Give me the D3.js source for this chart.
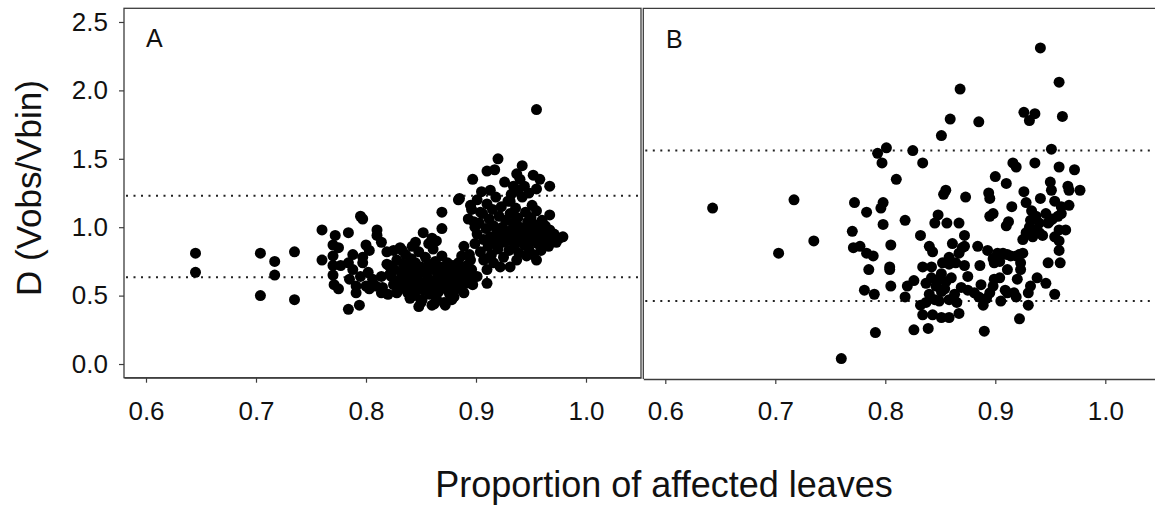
<!DOCTYPE html>
<html>
<head>
<meta charset="utf-8">
<script src="https://cdn.jsdelivr.net/npm/d3@7"></script>
<style>
  body { margin: 0; background: #fff; }
  svg { display: block; font-family: "Liberation Sans", Arial, sans-serif; }
</style>
</head>
<body>
<div id="chart"></div>
<script>
// values
var xTicks = [0.6, 0.7, 0.8, 0.9, 1.0];
var yTicks = [0.0, 0.5, 1.0, 1.5, 2.0, 2.5];
var panelNames = ["A", "B"];
var refLinesA = [1.23, 0.635];
var refLinesB = [1.56, 0.46];

var pointsA = [
  [0.645,0.81],[0.645,0.67],[0.704,0.81],[0.704,0.50],[0.717,0.75],[0.717,0.65],[0.735,0.82],[0.735,0.47],
  [0.760,0.98],[0.760,0.76],[0.772,0.94],[0.770,0.87],[0.784,0.96],[0.795,1.08],[0.797,1.06],[0.800,0.87],[0.810,0.98],[0.810,0.94],
  [0.770,0.79],[0.770,0.72],[0.770,0.65],[0.771,0.58],[0.775,0.55],[0.775,0.85],[0.777,0.72],
  [0.784,0.74],[0.788,0.69],[0.795,0.64],[0.785,0.62],[0.791,0.57],[0.791,0.52],[0.784,0.40],[0.794,0.43],
  [0.797,0.74],[0.802,0.67],[0.806,0.62],[0.800,0.57],[0.803,0.55],[0.809,0.57],[0.788,0.80],[0.797,0.78],[0.803,0.83],
  [0.814,0.52],[0.815,0.56],[0.814,0.89],[0.814,0.64],[0.819,0.73],[0.822,0.66],
  [0.819,0.82],[0.825,0.83],[0.831,0.85],[0.845,0.89],[0.852,0.96],[0.860,0.92],[0.869,1.11],[0.869,0.99],[0.884,1.20],
  [0.820,0.51],[0.828,0.52],[0.840,0.48],[0.848,0.42],[0.860,0.43],[0.872,0.43],[0.880,0.49],
  [0.955,1.86],
  [0.920,1.50],[0.910,1.41],[0.917,1.42],[0.897,1.35],[0.942,1.45],[0.937,1.39],[0.940,1.35],[0.952,1.38],[0.958,1.35],[0.967,1.30],[0.955,1.28],
  [0.926,1.33],[0.934,1.30],[0.932,1.24],[0.931,1.19],[0.885,1.21],[0.905,1.26],[0.913,1.27],[0.901,1.20],[0.895,1.16],[0.898,1.04],[0.904,1.11],
  [0.951,1.16],[0.967,1.09],[0.976,0.92],[0.979,0.93],
  [0.955,0.76],[0.946,0.79],[0.937,0.76],[0.931,0.71],[0.922,0.71],[0.916,0.74],
  [0.889,0.86],[0.887,0.79],[0.895,0.76],[0.907,0.76],[0.910,0.69],[0.901,0.64],[0.891,0.59],[0.882,0.62],[0.880,0.54],[0.889,0.52],[0.910,0.59],
  [0.821,0.72],[0.823,0.64],[0.825,0.58],[0.826,0.69],[0.828,0.76],[0.829,0.61],[0.831,0.55],[0.832,0.67],[0.834,0.73],[0.835,0.59],
  [0.836,0.80],[0.837,0.64],[0.838,0.52],[0.839,0.70],[0.840,0.57],[0.841,0.77],[0.842,0.62],[0.843,0.68],[0.844,0.50],[0.845,0.74],
  [0.846,0.56],[0.847,0.65],[0.848,0.82],[0.849,0.60],[0.850,0.71],[0.851,0.47],[0.852,0.54],[0.853,0.67],[0.854,0.78],[0.855,0.58],
  [0.856,0.63],[0.857,0.73],[0.858,0.51],[0.859,0.69],[0.860,0.56],[0.861,0.84],[0.862,0.61],[0.863,0.75],[0.864,0.48],[0.865,0.66],
  [0.866,0.53],[0.867,0.71],[0.868,0.59],[0.869,0.79],[0.870,0.63],[0.871,0.45],[0.872,0.68],[0.873,0.55],[0.874,0.74],[0.875,0.60],
  [0.876,0.51],[0.877,0.66],[0.878,0.57],[0.879,0.72],[0.880,0.63],[0.881,0.68],[0.883,0.58],[0.884,0.74],[0.885,0.65],[0.886,0.55],
  [0.887,0.70],[0.888,0.61],[0.890,0.67],[0.892,0.72],[0.893,0.63],[0.894,0.80],[0.896,0.69],[0.897,0.58],
  [0.833,0.83],[0.842,0.86],[0.857,0.88],[0.864,0.90],[0.850,0.45],[0.862,0.44],[0.845,0.53],[0.878,0.47],
  [0.899,0.88],[0.901,0.95],[0.903,1.03],[0.904,0.82],[0.906,1.10],[0.907,0.91],[0.908,0.77],[0.909,0.99],[0.910,1.17],[0.911,0.86],
  [0.912,1.06],[0.913,0.93],[0.914,0.80],[0.915,1.13],[0.916,1.01],[0.917,0.88],[0.918,1.22],[0.919,0.96],[0.920,0.84],[0.921,1.08],
  [0.922,0.92],[0.923,1.15],[0.924,1.00],[0.925,0.78],[0.926,0.89],[0.927,1.05],[0.928,0.95],[0.929,1.19],[0.930,0.83],[0.931,1.10],
  [0.932,0.98],[0.933,0.90],[0.934,1.03],[0.935,0.86],[0.936,1.14],[0.937,0.94],[0.938,1.07],[0.939,0.81],[0.940,1.00],[0.941,0.91],
  [0.942,1.22],[0.943,0.97],[0.944,0.87],[0.945,1.11],[0.946,0.93],[0.947,1.04],[0.948,0.84],[0.949,0.99],[0.950,1.07],[0.951,0.90],
  [0.952,0.80],[0.953,1.02],[0.954,0.95],[0.955,1.12],[0.956,0.88],[0.957,1.00],[0.958,0.93],[0.959,0.83],[0.960,1.05],[0.961,0.97],
  [0.962,0.89],[0.963,1.01],[0.964,0.92],[0.966,0.86],[0.967,0.98],[0.969,0.91],[0.971,0.95],[0.973,0.89],[0.975,0.92],
  [0.944,1.30],[0.948,1.25],[0.938,1.27],[0.893,1.06],[0.896,1.13],[0.899,1.00]
];

var pointsB = [
  [0.643,1.14],[0.703,0.81],[0.717,1.20],[0.735,0.90],
  [0.760,0.04],[0.941,2.31],[0.958,2.06],[0.868,2.01],
  [0.926,1.84],[0.931,1.78],[0.936,1.83],[0.961,1.81],[0.859,1.79],[0.885,1.77],[0.851,1.67],
  [0.801,1.58],[0.793,1.54],[0.797,1.47],[0.825,1.56],[0.951,1.57],[0.834,1.47],[0.936,1.47],
  [0.810,1.35],[0.916,1.47],[0.919,1.44],[0.958,1.44],[0.972,1.42],[0.900,1.37],[0.910,1.32],[0.950,1.33],
  [0.966,1.30],[0.967,1.27],[0.977,1.27],[0.855,1.27],[0.853,1.24],[0.873,1.22],[0.894,1.25],[0.895,1.21],
  [0.926,1.26],[0.951,1.27],[0.941,1.21],[0.915,1.15],[0.928,1.18],[0.933,1.12],[0.954,1.19],[0.960,1.15],[0.967,1.16],
  [0.946,1.10],[0.952,1.06],[0.957,1.08],[0.960,1.10],[0.964,0.98],[0.958,0.98],[0.954,0.93],[0.958,0.90],
  [0.772,1.18],[0.783,1.11],[0.798,1.18],[0.796,1.14],[0.798,1.02],[0.818,1.05],[0.848,1.09],[0.845,1.03],[0.856,1.03],[0.867,1.03],
  [0.832,0.94],[0.872,0.94],[0.770,0.97],[0.771,0.85],[0.777,0.86],[0.783,0.81],[0.789,0.79],[0.785,0.69],[0.805,0.87],[0.804,0.71],[0.804,0.69],[0.805,0.57],
  [0.781,0.54],[0.790,0.51],[0.820,0.57],[0.826,0.61],[0.818,0.49],[0.791,0.23],[0.826,0.25],[0.839,0.26],[0.890,0.24],[0.922,0.33],[0.832,0.43],
  [0.834,0.36],[0.843,0.36],[0.851,0.34],[0.858,0.34],[0.867,0.37],
  [0.837,0.45],[0.840,0.51],[0.845,0.47],[0.849,0.46],[0.851,0.53],[0.854,0.55],[0.863,0.51],[0.865,0.45],
  [0.834,0.71],[0.842,0.71],[0.842,0.63],[0.849,0.62],[0.855,0.60],[0.860,0.63],[0.852,0.74],[0.858,0.78],[0.867,0.81],[0.870,0.85],[0.872,0.72],[0.875,0.64],
  [0.840,0.86],[0.843,0.82],[0.861,0.88],[0.872,0.86],
  [0.875,0.54],[0.881,0.52],[0.885,0.49],[0.889,0.43],[0.892,0.48],[0.895,0.52],[0.887,0.58],[0.898,0.57],[0.899,0.62],[0.904,0.63],[0.909,0.54],[0.905,0.46],[0.911,0.52],[0.917,0.52],[0.919,0.49],
  [0.886,0.72],[0.884,0.86],[0.893,0.83],
  [0.898,0.77],[0.902,0.81],[0.907,0.81],[0.911,0.80],[0.914,0.79],[0.919,0.79],[0.922,0.80],[0.925,0.81],[0.923,0.74],[0.923,0.69],[0.920,0.62],[0.911,0.69],[0.904,0.75],[0.899,0.74],
  [0.925,0.91],[0.928,0.96],[0.931,1.00],[0.932,1.05],[0.937,1.08],[0.940,1.03],[0.940,0.96],[0.943,0.94],[0.934,0.93],[0.937,0.98],[0.949,1.04],
  [0.932,0.57],[0.930,0.52],[0.930,0.43],[0.938,0.63],[0.946,0.59],[0.948,0.74],[0.959,0.74],[0.954,0.51],
  [0.910,1.01],[0.912,1.04],[0.895,1.08],[0.898,1.10],
  [0.869,0.56],[0.851,0.66],[0.837,0.59],[0.846,0.57],[0.858,0.47],
  [0.858,0.73],[0.864,0.74],[0.958,0.83],[0.948,1.03]
];

var width = 1155, height = 507;
var svg = d3.select("#chart").append("svg").attr("width", width).attr("height", height);

var y = d3.scaleLinear().domain([-0.1, 2.6]).range([377.7, 8.3]);
var xA = d3.scaleLinear().domain([0.58, 1.05]).range([124, 641]);
var xB = d3.scaleLinear().domain([0.58, 1.05]).range([643.3, 1160.3]);

var axisColor = "#3c3c3c";

function styleAxis(g) {
  g.selectAll(".domain").attr("stroke", axisColor).attr("stroke-width", 1.3);
  g.selectAll(".tick line").attr("stroke", axisColor).attr("stroke-width", 1.2);
  g.selectAll(".tick text").attr("fill", "#111").style("font-size", "26px")
    .style("font-family", "'Liberation Sans', Arial, sans-serif");
}

// panel A frame
svg.append("rect").attr("x", 124).attr("y", 8.3).attr("width", 517).attr("height", 369.4)
  .attr("fill", "none").attr("stroke", axisColor).attr("stroke-width", 1.3);
// panel B frame: left + top
svg.append("path").attr("d", "M643.3,379V8.3H" + width)
  .attr("fill", "none").attr("stroke", axisColor).attr("stroke-width", 1.3);

// reference lines
function refLines(vals, x) {
  svg.append("g").selectAll("line").data(vals).enter().append("line")
    .attr("x1", x.range()[0] + 2).attr("x2", Math.min(x.range()[1], width))
    .attr("y1", function(d){ return y(d); }).attr("y2", function(d){ return y(d); })
    .attr("stroke", "#222").attr("stroke-width", 2).attr("stroke-dasharray", "2,5.5");
}
refLines(refLinesA, xA);
refLines(refLinesB, xB);

// points
function dots(data, x) {
  svg.append("g").selectAll("circle").data(data).enter().append("circle")
    .attr("cx", function(d){ return x(d[0]); })
    .attr("cy", function(d){ return y(d[1]); })
    .attr("r", 5.5)
    .attr("fill", "#000");
}
dots(pointsA, xA);
dots(pointsB, xB);

// axes
var gxA = svg.append("g").attr("transform", "translate(0,377.7)")
  .call(d3.axisBottom(xA).tickValues(xTicks).tickFormat(d3.format(".1f")).tickSizeInner(5).tickSizeOuter(0).tickPadding(19));
styleAxis(gxA);
var gxB = svg.append("g").attr("transform", "translate(0,379)")
  .call(d3.axisBottom(xB).tickValues(xTicks).tickFormat(d3.format(".1f")).tickSizeInner(5).tickSizeOuter(0).tickPadding(18));
styleAxis(gxB);
var gy = svg.append("g").attr("transform", "translate(124,0)")
  .call(d3.axisLeft(y).tickValues(yTicks).tickFormat(d3.format(".1f")).tickSizeInner(5).tickSizeOuter(0).tickPadding(11));
styleAxis(gy);
gy.select(".domain").remove();

// panel letters
svg.append("text").attr("x", 146).attr("y", 47).style("font-size", "25px").attr("fill", "#111").text(panelNames[0]);
svg.append("text").attr("x", 666).attr("y", 48).style("font-size", "25px").attr("fill", "#111").text(panelNames[1]);

// axis titles
svg.append("text").attr("x", 664).attr("y", 497).attr("text-anchor", "middle")
  .style("font-size", "36px").attr("fill", "#111").text("Proportion of affected leaves");
svg.append("text").attr("transform", "translate(41,188) rotate(-90)").attr("text-anchor", "middle")
  .style("font-size", "35px").attr("fill", "#111").text("D (Vobs/Vbin)");
</script>
</body>
</html>
